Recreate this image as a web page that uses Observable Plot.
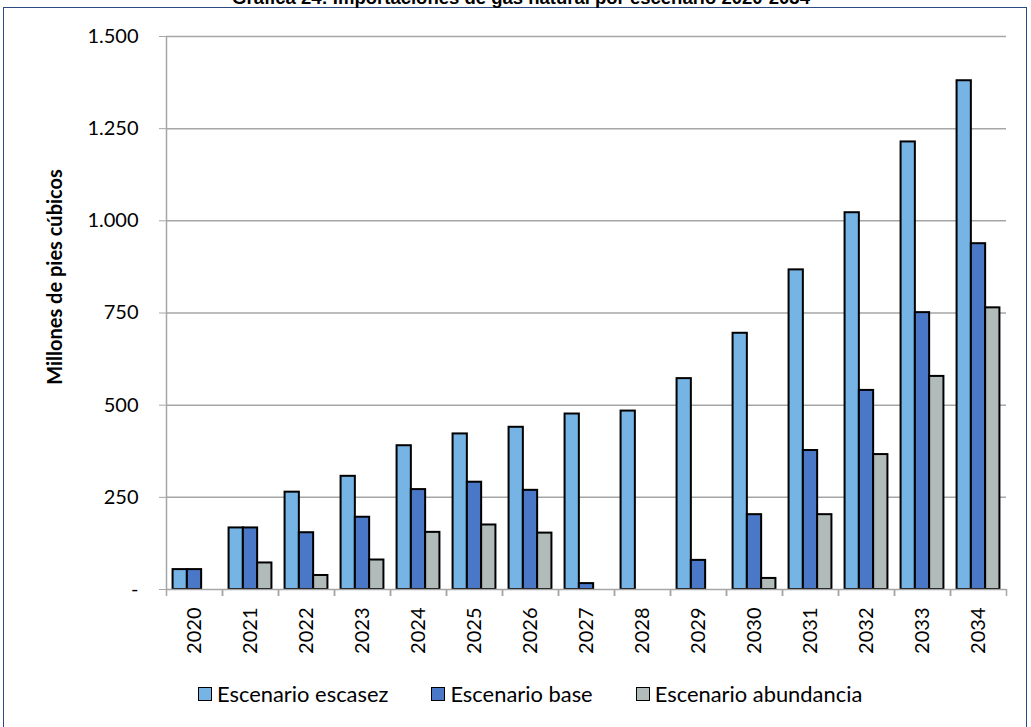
<!DOCTYPE html>
<html><head><meta charset="utf-8">
<script src="https://cdn.jsdelivr.net/npm/d3@7"></script>
<script src="https://cdn.jsdelivr.net/npm/@observablehq/plot@0.6"></script>
<style>
html,body{margin:0;padding:0;background:#fff;overflow:hidden}
#wrap{position:relative;width:1031px;height:727px;overflow:hidden;font-family:Lato,"Open Sans",sans-serif;color:#000}
#border{position:absolute;left:3px;top:7px;width:1022px;height:760px;border:1.5px solid #2c4b82;}
#title{position:absolute;left:0;width:1042px;top:-12px;text-align:center;font:bold 18.5px "Liberation Sans",Arial,sans-serif;line-height:19px;white-space:nowrap}
#ylabel{position:absolute;left:54px;top:277px;transform:translate(-50%,-50%) rotate(-90deg);font-weight:bold;font-size:20px;white-space:nowrap}
#chart{position:absolute;left:0;top:0}
#legend{position:absolute;left:198px;top:680px;display:flex;gap:43px;font-size:21.9px;align-items:center;white-space:nowrap}
.item{display:flex;align-items:center;gap:5px}
.sw{width:12px;height:12px;border:1.5px solid #000}
</style></head>
<body>
<div id="wrap">
  <div id="border"></div>
  <div id="title"></div>
  <div id="chart"></div>
  <div id="ylabel"></div>
  <div id="legend"></div>
</div>
<script>
const titleText = "Gráfica 24: Importaciones de gas natural por escenario 2020-2034";
const yTitle = "Millones de pies cúbicos";
const years = [2020, 2021, 2022, 2023, 2024, 2025, 2026, 2027, 2028, 2029, 2030, 2031, 2032, 2033, 2034];
const scenarios = ["Escenario escasez", "Escenario base", "Escenario abundancia"];
const escasez =    [54, 167, 264, 307, 390, 422, 440, 476, 484, 572, 695, 867, 1022, 1214, 1380];
const base =       [54, 167, 154, 196, 271, 291, 269, 16, 0, 79, 203, 377, 540, 751, 938];
const abundancia = [0, 72, 38, 80, 155, 175, 153, 0, 0, 0, 30, 203, 366, 578, 764];
const colors = ["#75B4E4", "#4A78C6", "#B0BBBA"];
const yTicks = [0, 250, 500, 750, 1000, 1250, 1500];
const yTickLabels = ["-", "250", "500", "750", "1.000", "1.250", "1.500"];

const series = [escasez, base, abundancia];
const rows = [];
years.forEach((yr, j) => series.forEach((vals, k) => {
  if (vals[j] > 0) rows.push({year: yr, scenario: scenarios[k], k, value: vals[j]});
}));

const pad = 0.46;
const xDomain = [-pad, scenarios.length + pad];
const gridColor = "#a6a6a6";

const chart = Plot.plot({
  width: 1031, height: 660,
  marginLeft: 165, marginRight: 25, marginTop: 36, marginBottom: 71,
  style: {fontFamily: "Lato, 'Open Sans', sans-serif", fontSize: "20px", background: "transparent", color: "#000"},
  fx: {domain: years, padding: 0},
  x: {type: "linear", domain: xDomain, axis: null},
  y: {domain: [yTicks[0], yTicks[yTicks.length - 1]]},
  color: {domain: scenarios, range: colors},
  marks: [
    Plot.gridY(yTicks.slice(1), {stroke: gridColor, strokeOpacity: 1, strokeWidth: 1.5}),
    Plot.rectY(rows, {fx: "year", x1: "k", x2: d => d.k + 1, y1: 0, y2: "value", fill: "scenario", stroke: "#000", strokeWidth: 2}),
    Plot.ruleY([0], {stroke: gridColor, strokeWidth: 1.5}),
    Plot.ruleX(xDomain, {y1: 0, y2: 0, insetBottom: -7, stroke: gridColor, strokeWidth: 1.5}),
    Plot.ruleX([{year: years[0]}], {fx: "year", x: () => xDomain[0], y1: 0, y2: yTicks[yTicks.length - 1], stroke: gridColor, strokeWidth: 1.5}),
    Plot.axisY({ticks: yTicks, tickFormat: d => yTickLabels[yTicks.indexOf(d)], tickSize: 7, tickPadding: 21, stroke: gridColor, fill: "#000", fontSize: 20, label: null}),
    Plot.axisFx({anchor: "bottom", tickSize: 0, tickPadding: 18, tickRotate: -90, tickFormat: d => String(d), fontSize: 20, label: null, fill: "#000"})
  ]
});
document.getElementById("chart").appendChild(chart);
document.getElementById("title").textContent = titleText;
document.getElementById("ylabel").textContent = yTitle;
const legend = document.getElementById("legend");
scenarios.forEach((s, k) => {
  const it = document.createElement("div"); it.className = "item";
  const sw = document.createElement("div"); sw.className = "sw"; sw.style.background = colors[k];
  const tx = document.createElement("span"); tx.textContent = s;
  it.appendChild(sw); it.appendChild(tx); legend.appendChild(it);
});
</script>
</body></html>
